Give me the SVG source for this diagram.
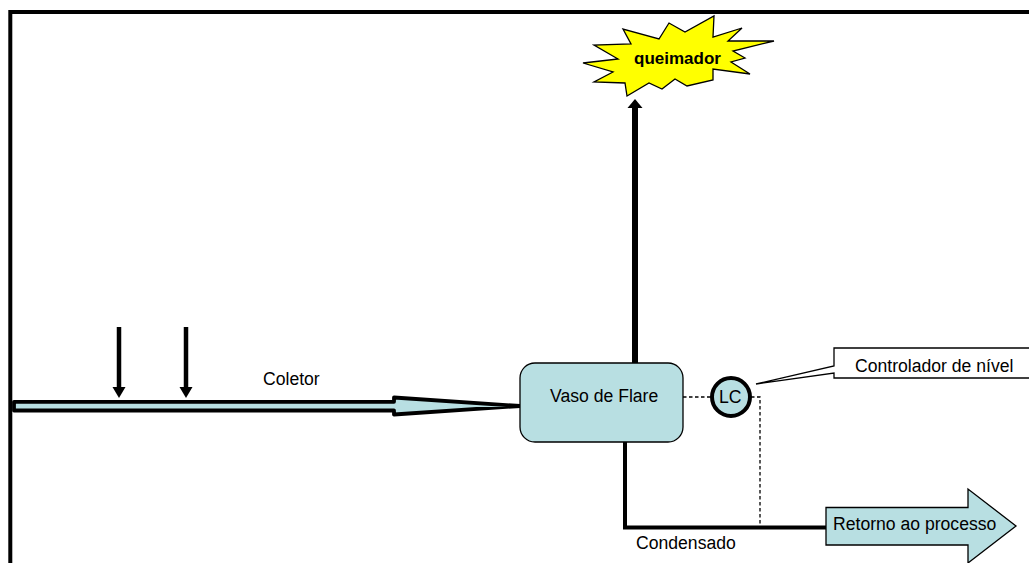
<svg xmlns="http://www.w3.org/2000/svg" width="1029" height="563" viewBox="0 0 1029 563">
<style>
text{font-family:"Liberation Sans",Arial,sans-serif;font-size:17.6px;fill:#000}
.fill{fill:#b8dfe2;stroke:#000}
.pipe{fill:none;stroke:#000}
.dash{fill:none;stroke:#000;stroke-width:1.3;stroke-dasharray:3.500 2.500}
.head{fill:#000}
</style>
<rect width="1029" height="563" fill="#fff"/>
<path id="frame" d="M10.300 563V12H1029" fill="none" stroke="#000" stroke-width="4"/>
<g id="connectors">
<path class="pipe" stroke-width="6" d="M635 363V107"/>
<path class="head" d="M635 99L642.500 108H627.500Z"/>
<path class="pipe" stroke-width="4.500" d="M119 327V388"/>
<path class="head" d="M119 398L112.500 387H125.500Z"/>
<path class="pipe" stroke-width="4.500" d="M186 327V388"/>
<path class="head" d="M186 398L179.500 387H192.500Z"/>
<path class="pipe" stroke-width="4" d="M625 442V527.500H826"/>
<path class="dash" d="M683 397H712"/>
<path class="dash" d="M751 397H760V527"/>
</g>
<g id="coletor"><path class="fill" stroke-width="3.800" stroke-linejoin="round" d="M14 401.800H394V397.500L520 406L394 414.500V410.500H14Z"/><text x="263" y="385">Coletor</text></g>
<g id="queimador"><path d="M583 63L618 59L594 45L631 44L623 29L659 39L669 23L685 32L714 16L713 37L742 28L728 41L774 41L733 51L745 58L731 62L750 74L713 69L713 80L687 86L675 79L662 89L649 83L627 96L625 83L594 82L613 72Z" fill="#ff0" stroke="#000" stroke-width="1.300"/><text x="634" y="64" style="font-weight:700;font-size:17px">queimador</text></g>
<g id="vaso"><rect class="fill" x="520" y="363" width="163" height="79" rx="15" stroke-width="1.300"/><text x="550" y="402">Vaso de Flare</text></g>
<g id="lc"><circle class="fill" cx="731" cy="397" r="19" stroke-width="4"/><text x="719" y="403">LC</text></g>
<g id="controlador"><path d="M1029 348H834V366L756 384L834 373V378H1029" fill="#fff" stroke="#000" stroke-width="1.300"/><text x="855" y="372">Controlador de nível</text></g>
<g id="retorno"><path class="fill" stroke-width="1.300" d="M826 507.500H968V489L1016 526L968 563V545H826Z"/><text x="833" y="530">Retorno ao processo</text></g>
<text id="condensado" x="636" y="549">Condensado</text>
</svg>
